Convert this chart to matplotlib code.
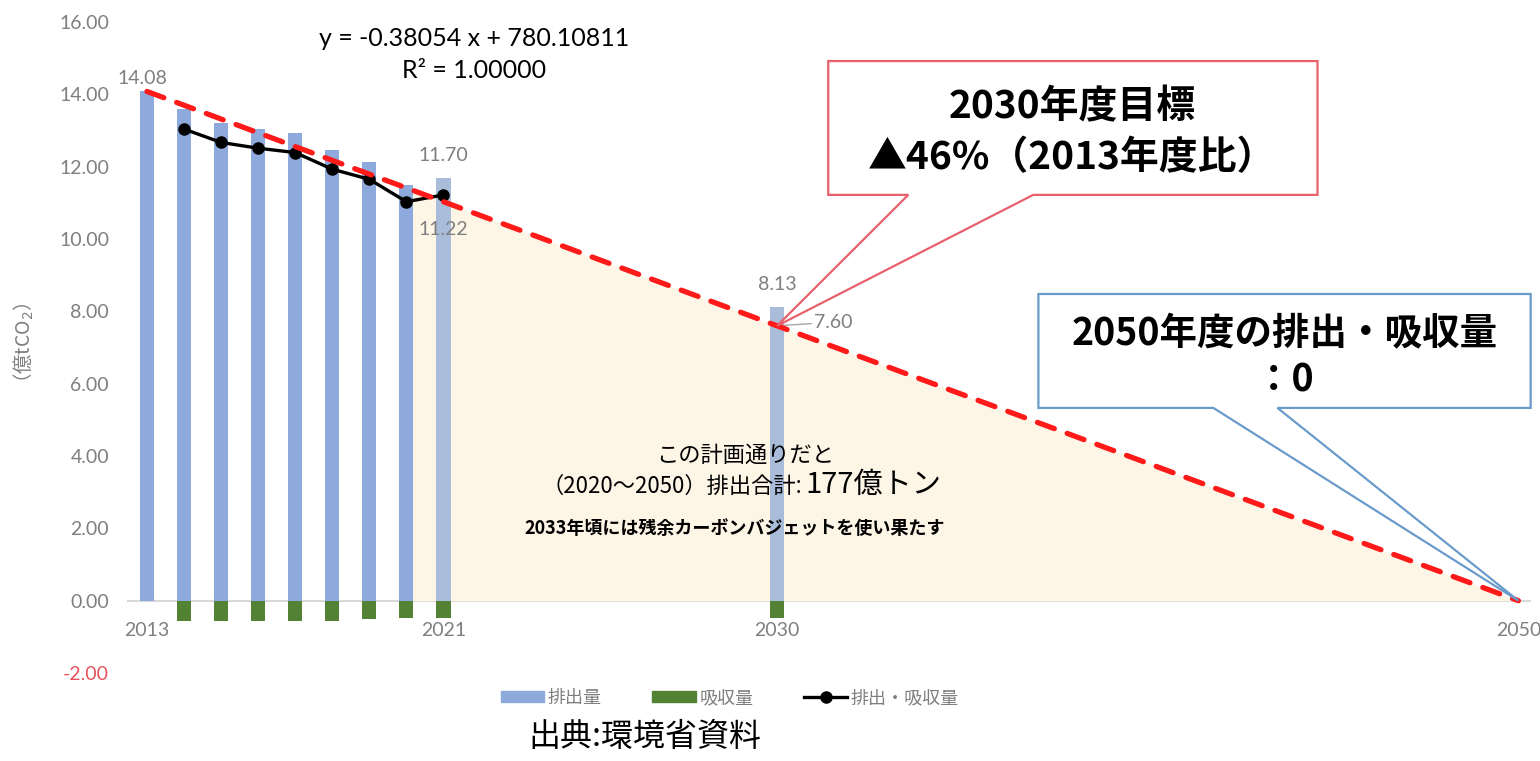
import matplotlib.pyplot as plt
import numpy as np
from matplotlib.patches import Patch, Polygon
from matplotlib.lines import Line2D

plt.rcParams['font.family'] = ['Lato', 'Noto Sans CJK JP', 'DejaVu Sans']

# 排出量 / 吸収量 (億tCO2)
years = [2013, 2014, 2015, 2016, 2017, 2018, 2019, 2020, 2021, 2030]
emission = [14.08, 13.59, 13.21, 13.04, 12.92, 12.47, 12.12, 11.49, 11.70, 8.13]
absorption = [0.0, -0.57, -0.56, -0.56, -0.56, -0.55, -0.50, -0.48, -0.48, -0.48]

# 排出・吸収量 (net)
net_years = [2014, 2015, 2016, 2017, 2018, 2019, 2020, 2021]
net = [13.04, 12.67, 12.51, 12.39, 11.93, 11.65, 11.03, 11.22]

# 削減経路 (2013 -> 2030目標 -> 2050 ゼロ)
path_years = [2013, 2030, 2050]
path_vals = [14.08, 7.60, 0.0]

budget_start = 2020
xtick_years = [2013, 2021, 2030, 2050]
yticks = np.arange(-2, 17, 2)

blue = '#8EA9DB'
blue_light = '#A9BDDA'
green = '#548235'
gray = '#7F7F7F'
jp = ['Noto Sans CJK JP', 'DejaVu Sans']

fig = plt.figure(figsize=(15.4, 7.61), dpi=100)
ax = fig.add_axes([0.0834, 0.1156, 0.9098, 0.8555])

# cumulative area under the path from 2020
fx = [budget_start] + [y for y in path_years if y > budget_start]
fy = list(np.interp(fx, path_years, path_vals))
ax.fill_between(fx, 0, fy, color='#FDF5E6', lw=0, zorder=1.5)

bar_colors = [blue] * 8 + [blue_light] * 2
ax.bar(years, emission, width=0.38, color=bar_colors, zorder=2)
ax.bar(years, absorption, width=0.38, color=green, zorder=2)

ax.plot(net_years, net, color='black', lw=2.4, marker='o', ms=8, zorder=4)
ax.plot(path_years, path_vals, color='#FF1A1A', lw=3.8, dashes=(3.4, 2.6),
        dash_capstyle='round', zorder=5)

# data labels
lab = dict(color=gray, fontsize=14, ha='center')
ax.text(2012.87, emission[0] + 0.2, f"{emission[0]:.2f}", **lab)
ax.text(2021, emission[8] + 0.45, f"{emission[8]:.2f}", **lab)
ax.text(2021, net[-1] - 1.1, f"{net[-1]:.2f}", **lab)
ax.text(2030, emission[9] + 0.45, f"{emission[9]:.2f}", **lab)
ax.annotate(f"{path_vals[1]:.2f}", xy=(2030, path_vals[1]), xytext=(2031.0, path_vals[1] + 0.1),
            color=gray, fontsize=14, va='center',
            arrowprops=dict(arrowstyle='-', color='#A6A6A6', lw=1, shrinkA=0, shrinkB=0))

ax.set_xlim(2012.5, 2050.3)
ax.set_ylim(-2, 16)
for s in ['top', 'right', 'left']:
    ax.spines[s].set_visible(False)
ax.spines['bottom'].set_position(('data', 0))
ax.spines['bottom'].set_color('#D9D9D9')
ax.spines['bottom'].set_linewidth(1.5)
ax.spines['bottom'].set_zorder(1)

ax.set_xticks(xtick_years, labels=[str(y) for y in xtick_years])
ax.set_yticks(yticks, labels=[f"{v:.2f}" for v in yticks])
ax.tick_params(axis='x', length=0, pad=15, labelsize=14, labelcolor=gray)
ax.tick_params(axis='y', length=0, pad=14, labelsize=14, labelcolor=gray)
ax.get_yticklabels()[0].set_color('#E8535D')
ax.set_ylabel("（億tCO$_2$）", color=gray, fontsize=14, family=jp)
ax.yaxis.set_label_coords(-0.066, 0.5)

# trend line equation
fig.text(0.308, 0.95, "y = -0.38054 x + 780.10811", ha='center', va='center', fontsize=18)
fig.text(0.308, 0.908, "R² = 1.00000", ha='center', va='center', fontsize=18)


def callout(box, base, tip, edge):
    x0, x1, y0, y1 = box
    pts = [(x0, y1), (x1, y1), (x1, y0), (base[1], y0), tip, (base[0], y0), (x0, y0)]
    ax.add_patch(Polygon(pts, closed=True, facecolor='white', edgecolor=edge,
                         lw=1.6, zorder=6, clip_on=False))


cjk_bold = dict(family=jp, weight='bold', ha='center', va='center', zorder=7)

callout((2031.38, 2044.58, 11.22, 14.92), (2033.54, 2036.91), (2030, path_vals[1]), '#E8606C')
ax.text(2037.97, 13.65, "2030年度目標", fontsize=28, **cjk_bold)
ax.text(2037.97, 12.24, "▲46%（2013年度比）", fontsize=28, **cjk_bold)

callout((2037.05, 2050.33, 5.33, 8.48), (2041.77, 2043.5), (2050, path_vals[2]), '#6A9BCB')
ax.text(2043.69, 7.40, "2050年度の排出・吸収量", fontsize=27, **cjk_bold)
ax.text(2043.69, 6.10, "：0", fontsize=27, **cjk_bold)

# budget note
fig.text(0.484, 0.402, "この計画通りだと", family=jp, fontsize=16, ha='center', va='center')
fig.text(0.5208, 0.352, "（2020～2050）排出合計:", family=jp, fontsize=16,
         ha='right', va='baseline')
fig.text(0.5227, 0.352, "177億トン", family=jp, fontsize=21, ha='left', va='baseline')
fig.text(0.477, 0.306, "2033年頃には残余カーボンバジェットを使い果たす", family=jp,
         fontsize=13, weight='bold', ha='center', va='center')

handles = [Patch(color=blue), Patch(color=green),
           Line2D([], [], color='black', lw=2.4, marker='o', ms=8)]
fig.legend(handles, ["排出量", "吸収量", "排出・吸収量"], loc='center', bbox_to_anchor=(0.474, 0.083),
           ncol=3, frameon=False, labelcolor=gray, handlelength=2.4,
           handleheight=0.6, handletextpad=0.2, columnspacing=2.8, prop={'family': jp, 'size': 13})

fig.text(0.419, 0.032, "出典:環境省資料", family=jp, fontsize=23, ha='center', va='center')

fig.savefig('out.png', dpi=100)
